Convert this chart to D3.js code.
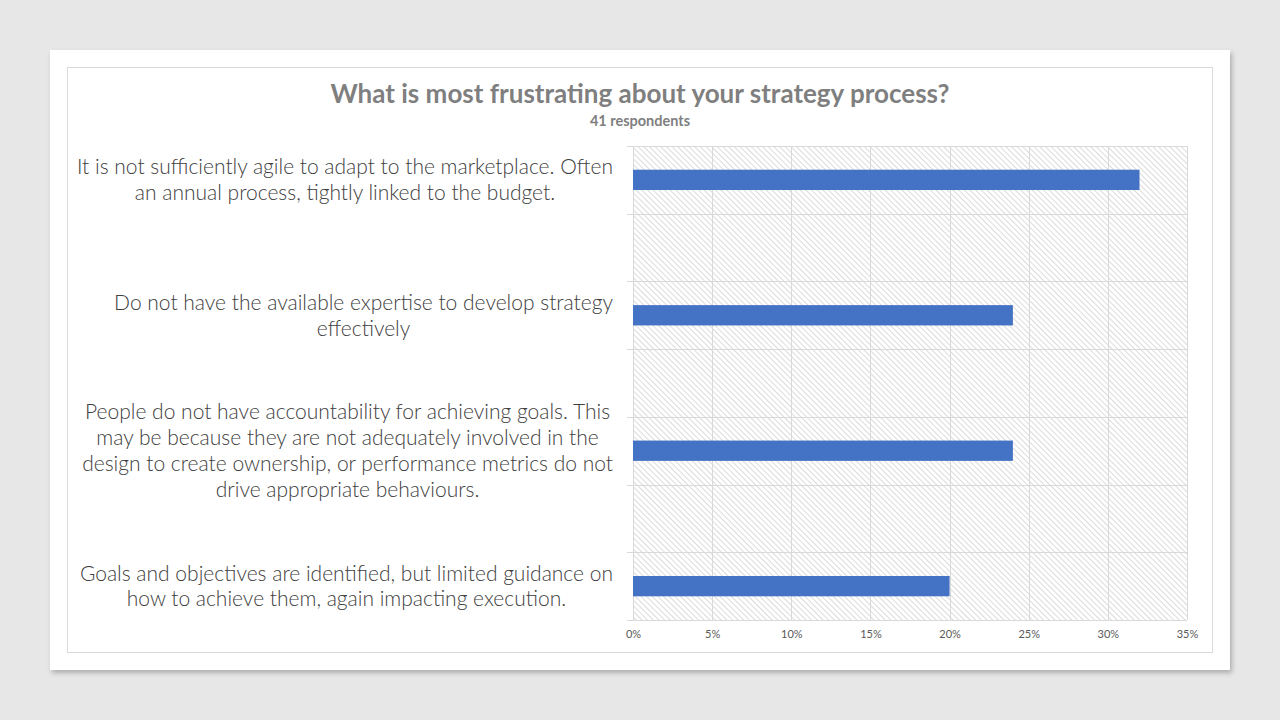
<!DOCTYPE html>
<html>
<head>
<meta charset="utf-8">
<script src="https://cdn.jsdelivr.net/npm/d3@7"></script>
<style>
  html, body { margin: 0; padding: 0; background: #e7e7e7; }
  svg { display: block; }
</style>
</head>
<body>
<script>
// chart data
var title = "What is most frustrating about your strategy process?";
var subtitle = "41 respondents";
var categories = [
  "It is not sufficiently agile to adapt to the marketplace. Often|an annual process, tightly linked to the budget.",
  "",
  "Do not have the available expertise to develop strategy|effectively",
  "",
  "People do not have accountability for achieving goals. This|may be because they are not adequately involved in the|design to create ownership, or performance metrics do not|drive appropriate behaviours.",
  "",
  "Goals and objectives are identified, but limited guidance on|how to achieve them, again impacting execution."
];
var values = [32, null, 24, null, 24, null, 20];
var xTicks = [0, 5, 10, 15, 20, 25, 30, 35];

var width = 1280, height = 720;
var plot = { left: 633, right: 1187, top: 146, bottom: 620 };

var svg = d3.select("body").append("svg")
    .attr("width", width)
    .attr("height", height);

var defs = svg.append("defs");

defs.append("filter")
    .attr("id", "shadow")
    .attr("x", "-5%").attr("y", "-5%")
    .attr("width", "110%").attr("height", "110%")
  .append("feDropShadow")
    .attr("dx", 2).attr("dy", 3)
    .attr("stdDeviation", 2.5)
    .attr("flood-color", "#000")
    .attr("flood-opacity", 0.25);

var pattern = defs.append("pattern")
    .attr("id", "hatch")
    .attr("patternUnits", "userSpaceOnUse")
    .attr("width", 4).attr("height", 4)
    .attr("patternTransform", "rotate(45)");
pattern.append("rect")
    .attr("width", 4).attr("height", 4)
    .attr("fill", "#ffffff");
pattern.append("line")
    .attr("x1", 0).attr("y1", 0)
    .attr("x2", 4).attr("y2", 0)
    .attr("stroke", "#c4c4c4")
    .attr("stroke-width", 1.2);

// slide card
svg.append("rect")
    .attr("x", 50).attr("y", 50)
    .attr("width", 1180).attr("height", 620)
    .attr("fill", "#ffffff")
    .attr("filter", "url(#shadow)");

// chart border
svg.append("rect")
    .attr("x", 67.5).attr("y", 67.5)
    .attr("width", 1145).attr("height", 585)
    .attr("fill", "#ffffff")
    .attr("stroke", "#d9d9d9")
    .attr("stroke-width", 1);

var x = d3.scaleLinear()
    .domain([0, 35])
    .range([plot.left, plot.right]);

var y = d3.scaleBand()
    .domain(d3.range(categories.length))
    .range([plot.top, plot.bottom])
    .padding(0);

// plot background
svg.append("rect")
    .attr("x", plot.left).attr("y", plot.top)
    .attr("width", plot.right - plot.left)
    .attr("height", plot.bottom - plot.top)
    .attr("fill", "url(#hatch)");

// vertical gridlines
svg.append("g")
    .selectAll("line")
    .data(xTicks)
    .enter().append("line")
      .attr("x1", function (d) { return Math.round(x(d)) + 0.5; })
      .attr("x2", function (d) { return Math.round(x(d)) + 0.5; })
      .attr("y1", plot.top)
      .attr("y2", plot.bottom)
      .attr("stroke", "#d9d9d9");

// horizontal gridlines and ticks at band edges
var edges = d3.range(categories.length + 1).map(function (i) {
  return i < categories.length ? y(i) : plot.bottom;
});
svg.append("g")
    .selectAll("line")
    .data(edges)
    .enter().append("line")
      .attr("x1", plot.left - 6)
      .attr("x2", plot.right)
      .attr("y1", function (d) { return Math.round(d) + 0.5; })
      .attr("y2", function (d) { return Math.round(d) + 0.5; })
      .attr("stroke", "#d9d9d9");

// bars
var barH = y.bandwidth() * 0.3;
svg.append("g")
    .selectAll("rect")
    .data(values.map(function (v, i) { return { v: v, i: i }; })
                .filter(function (d) { return d.v !== null; }))
    .enter().append("rect")
      .attr("x", x(0))
      .attr("y", function (d) { return y(d.i) + (y.bandwidth() - barH) / 2; })
      .attr("width", function (d) { return x(d.v) - x(0); })
      .attr("height", barH)
      .attr("fill", "#4472c4");

// x axis labels
var xAxis = d3.axisBottom(x)
    .tickValues(xTicks)
    .tickSize(0)
    .tickPadding(10)
    .tickFormat(function (d) { return d + "%"; });

var axisG = svg.append("g")
    .attr("transform", "translate(0," + plot.bottom + ")")
    .call(xAxis);
axisG.select(".domain").remove();
axisG.selectAll("text")
    .attr("fill", "#595959")
    .style("font-family", "Lato, 'Open Sans', sans-serif")
    .style("font-size", "11px");

// category labels
var labelRight = 613;
var lineH = 25.8;
categories.forEach(function (c, i) {
  if (!c) return;
  var lines = c.split("|");
  var g = svg.append("g");
  var texts = g.selectAll("text")
      .data(lines)
      .enter().append("text")
        .attr("y", function (d, j) {
          return y(i) + y.bandwidth() / 2 + (j - (lines.length - 1) / 2) * lineH;
        })
        .attr("dy", "0.35em")
        .attr("text-anchor", "middle")
        .attr("fill", "#404040")
        .style("font-family", "Lato, 'Open Sans', sans-serif")
        .style("font-weight", 300)
        .style("font-size", "21px")
        .text(function (d) { return d; });
  var maxW = d3.max(texts.nodes(), function (n) { return n.getComputedTextLength(); });
  texts.attr("x", labelRight - maxW / 2);
});

// titles
svg.append("text")
    .attr("x", 640).attr("y", 103)
    .attr("text-anchor", "middle")
    .attr("fill", "#7f7f7f")
    .style("font-family", "Lato, 'Open Sans', sans-serif")
    .style("font-weight", 700)
    .style("font-size", "26px")
    .text(title);

svg.append("text")
    .attr("x", 640).attr("y", 126)
    .attr("text-anchor", "middle")
    .attr("fill", "#7f7f7f")
    .style("font-family", "Lato, 'Open Sans', sans-serif")
    .style("font-weight", 700)
    .style("font-size", "14.5px")
    .text(subtitle);
</script>
</body>
</html>
